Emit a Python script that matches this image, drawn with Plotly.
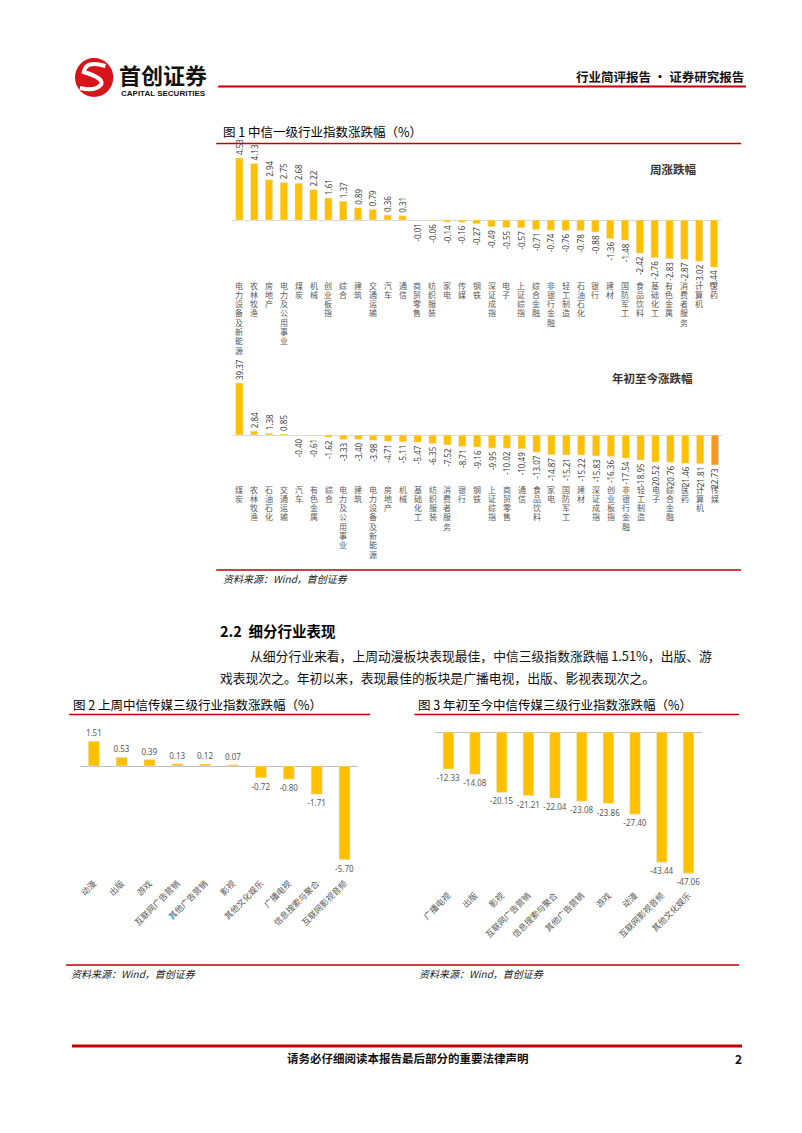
import plotly.graph_objects as go

# page is 802x1133; the html body keeps an 8px margin, so the figure is sized to the inner area
PAGE_W, PAGE_H = 802, 1133
OFF = 8
W, H = PAGE_W - 2 * OFF, PAGE_H - 2 * OFF

# ---------------- data ----------------
week_cats = ["电力设备及新能源", "农林牧渔", "房地产", "电力及公用事业", "煤炭", "机械", "创业板指", "综合",
             "建筑", "交通运输", "汽车", "通信", "商贸零售", "纺织服装", "家电", "传媒", "钢铁", "深证成指",
             "电子", "上证综指", "综合金融", "非银行金融", "轻工制造", "石油石化", "银行", "建材", "国防军工",
             "食品饮料", "基础化工", "有色金属", "消费者服务", "计算机", "医药"]
week_vals = [4.53, 4.13, 2.94, 2.75, 2.68, 2.22, 1.61, 1.37, 0.89, 0.79, 0.36, 0.31, -0.01, -0.06, -0.14,
             -0.16, -0.27, -0.49, -0.55, -0.57, -0.71, -0.74, -0.76, -0.78, -0.88, -1.36, -1.48, -2.42,
             -2.76, -2.83, -2.87, -3.02, -3.44]

ytd_cats = ["煤炭", "农林牧渔", "石油石化", "交通运输", "汽车", "有色金属", "综合", "电力及公用事业", "建筑",
            "电力设备及新能源", "房地产", "机械", "基础化工", "纺织服装", "消费者服务", "银行", "钢铁",
            "上证综指", "商贸零售", "通信", "食品饮料", "家电", "国防军工", "建材", "深证成指", "创业板指",
            "非银行金融", "轻工制造", "电子", "综合金融", "医药", "计算机", "传媒"]
ytd_vals = [39.37, 2.84, 1.38, 0.85, -0.40, -0.61, -1.62, -3.33, -3.40, -3.98, -4.71, -5.11, -5.47, -6.35,
            -7.52, -8.71, -9.16, -9.95, -10.02, -10.49, -13.07, -14.87, -15.21, -15.22, -15.83, -16.36,
            -17.54, -18.95, -20.52, -20.76, -21.46, -21.81, -22.73]
ytd_highlight = "传媒"

media_week_cats = ["动漫", "出版", "游戏", "互联网广告营销", "其他广告营销", "影视", "其他文化娱乐",
                   "广播电视", "信息搜索与聚合", "互联网影视音频"]
media_week_vals = [1.51, 0.53, 0.39, 0.13, 0.12, 0.07, -0.72, -0.80, -1.71, -5.70]

media_ytd_cats = ["广播电视", "出版", "影视", "互联网广告营销", "信息搜索与聚合", "其他广告营销", "游戏",
                  "动漫", "互联网影视音频", "其他文化娱乐"]
media_ytd_vals = [-12.33, -14.08, -20.15, -21.21, -22.04, -23.08, -23.86, -27.40, -43.44, -47.06]

# ---------------- style ----------------
GOLD = "#FFC000"
ORANGE = "#F39A1E"
RED = "#C00000"
CJK = "Noto Sans CJK SC"
NUM = "Noto Sans, Noto Sans CJK SC"
LBL = "#595959"


def X(px):
    return (px - OFF) / W


def Y(py):
    return 1 - (py - OFF) / H


fig = go.Figure()

# Figure 1 weekly
fig.add_trace(go.Bar(
    x=week_cats, y=week_vals, marker_color=GOLD, width=0.5,
    text=[f"{v:.2f}" for v in week_vals], textposition="outside", textangle=-90,
    textfont=dict(size=8, color="#404040", family=NUM), constraintext="none", cliponaxis=False,
    xaxis="x", yaxis="y"))

# Figure 1 ytd
fig.add_trace(go.Bar(
    x=ytd_cats, y=ytd_vals, width=0.5,
    marker_color=[ORANGE if c == ytd_highlight else GOLD for c in ytd_cats],
    text=[f"{v:.2f}" for v in ytd_vals], textposition="outside", textangle=-90,
    textfont=dict(size=8, color="#404040", family=NUM), constraintext="none", cliponaxis=False,
    xaxis="x2", yaxis="y2"))

# Figure 2
fig.add_trace(go.Bar(
    x=media_week_cats, y=media_week_vals, marker_color=GOLD, width=0.4,
    text=[f"{v:.2f}" for v in media_week_vals], textposition="outside", textangle=0,
    textfont=dict(size=8, color=LBL, family=NUM), constraintext="none", cliponaxis=False,
    xaxis="x3", yaxis="y3"))

# Figure 3
fig.add_trace(go.Bar(
    x=media_ytd_cats, y=media_ytd_vals, marker_color=GOLD, width=0.4,
    text=[f"{v:.2f}" for v in media_ytd_vals], textposition="outside", textangle=0,
    textfont=dict(size=8, color=LBL, family=NUM), constraintext="none", cliponaxis=False,
    xaxis="x4", yaxis="y4"))


def xax(domain, anchor, show_labels):
    return dict(domain=[X(domain[0]), X(domain[1])], anchor=anchor, showgrid=False, showline=False,
                ticks="", zeroline=False, fixedrange=True, showticklabels=show_labels, tickangle=-45,
                tickfont=dict(size=8.5, color=LBL, family=CJK))


def yax(top, bottom, rng, anchor, zc="#D9D9D9"):
    return dict(domain=[Y(bottom), Y(top)], anchor=anchor, range=rng, showgrid=False,
                showticklabels=False, zeroline=True, zerolinecolor=zc, zerolinewidth=1,
                showline=False, ticks="", fixedrange=True)


k1 = 13.7
k2 = 1.32
k3 = 16.45
k4 = 3.0

fig.update_layout(
    width=W, height=H, autosize=False, margin=dict(l=0, r=0, t=0, b=0),
    paper_bgcolor="white", plot_bgcolor="rgba(0,0,0,0)", showlegend=False, bargap=0.5,
    font=dict(family=CJK, color="#000"),
    xaxis=xax((221, 720), "y", False),
    yaxis=yax(143, 281, [-(281 - 220) / k1, (220 - 143) / k1], "x"),
    xaxis2=xax((221, 721), "y2", False),
    yaxis2=yax(350, 488, [-(488 - 435) / k2, (435 - 350) / k2], "x2"),
    xaxis3=xax((66, 350), "y3", True),
    yaxis3=yax(725, 876, [-(876 - 766) / k3, (766 - 725) / k3], "x3", "#BFBFBF"),
    xaxis4=xax((428, 700), "y4", True),
    yaxis4=yax(722, 888, [-(888 - 732) / k4, (732 - 722) / k4], "x4", "#BFBFBF"),
)

shapes = []


def hline(x0, x1, y, w=1.5, c=RED):
    shapes.append(dict(type="line", xref="paper", yref="paper", x0=X(x0), x1=X(x1), y0=Y(y), y1=Y(y),
                       line=dict(color=c, width=w)))


hline(207, 745, 86.5, 2.2)
hline(205, 740, 143.5, 1.5)
hline(205, 740, 570, 1.5)
hline(55, 362, 714.5, 1.5)
hline(407, 738, 714.5, 1.5)
hline(52, 738, 965, 1.5)
hline(58, 741, 1046, 3)

# logo
shapes.append(dict(type="circle", xref="paper", yref="paper", x0=X(61), x1=X(100), y0=Y(97), y1=Y(58),
                   fillcolor="#D7141A", line=dict(width=0)))
shapes.append(dict(type="path", xref="paper", yref="paper",
                   path=f"M {X(92)} {Y(66)} Q {X(72)} {Y(60)} {X(70)} {Y(72)} Q {X(90)} {Y(78)} {X(88)} {Y(84)} "
                        f"Q {X(82)} {Y(92)} {X(66)} {Y(88)}",
                   line=dict(color="white", width=4)))
fig.update_layout(shapes=shapes)

ann = []


def txt(x, y, s, size=12, color="#000", bold=False, anchor="left", italic=False, family=CJK):
    if bold:
        s = f"<b>{s}</b>"
    f = dict(size=size, color=color, family=family)
    if italic:
        f["style"] = "italic"
    ann.append(dict(xref="paper", yref="paper", x=X(x), y=Y(y), text=s, showarrow=False,
                    xanchor=anchor, yanchor="middle", font=f))


# vertical stacked category labels (one character per row), placed on the category axes
STEP = 9.3
for cats, xr, first in ((week_cats, "x", 285), (ytd_cats, "x2", 489)):
    for c in cats:
        for i, ch in enumerate(c):
            ann.append(dict(xref=xr, yref="paper", x=c, y=Y(first + i * STEP), text=ch, showarrow=False,
                            xanchor="center", yanchor="middle", borderpad=0,
                            font=dict(size=8, color=LBL, family=CJK)))

txt(104, 74, "首创证券", 22, "#111", True)
txt(106, 93.5, "CAPITAL SECURITIES", 8, "#111", True, family="Liberation Sans, Arial")
txt(745, 76, "行业简评报告 · 证券研究报告", 12.5, "#111", True, "right")
txt(210, 131, "图 1 中信一级行业指数涨跌幅（%）", 12.5)
txt(671, 169, "周涨跌幅", 11.5, "#333", True, "center")
txt(650, 378, "年初至今涨跌幅", 11.5, "#333", True, "center")
txt(210, 578, "资料来源：Wind，首创证券", 10, "#222", italic=True)
txt(207, 630, "2.2  细分行业表现", 14.5, "#000", True)
txt(237, 655, "从细分行业来看，上周动漫板块表现最佳，中信三级指数涨跌幅 1.51%，出版、游", 12.8, "#111")
txt(207, 677, "戏表现次之。年初以来，表现最佳的板块是广播电视，出版、影视表现次之。", 12.8, "#111")
txt(57, 704, "图 2 上周中信传媒三级行业指数涨跌幅（%）", 12.5)
txt(409, 704, "图 3 年初至今中信传媒三级行业指数涨跌幅（%）", 12.5)
txt(55, 973, "资料来源：Wind，首创证券", 10, "#222", italic=True)
txt(410, 973, "资料来源：Wind，首创证券", 10, "#222", italic=True)
txt(400, 1058, "请务必仔细阅读本报告最后部分的重要法律声明", 11.5, "#111", True, "center")
txt(743, 1058, "2", 12, "#111", True, "right")
fig.update_layout(annotations=ann)

fig.write_html("out.html")
